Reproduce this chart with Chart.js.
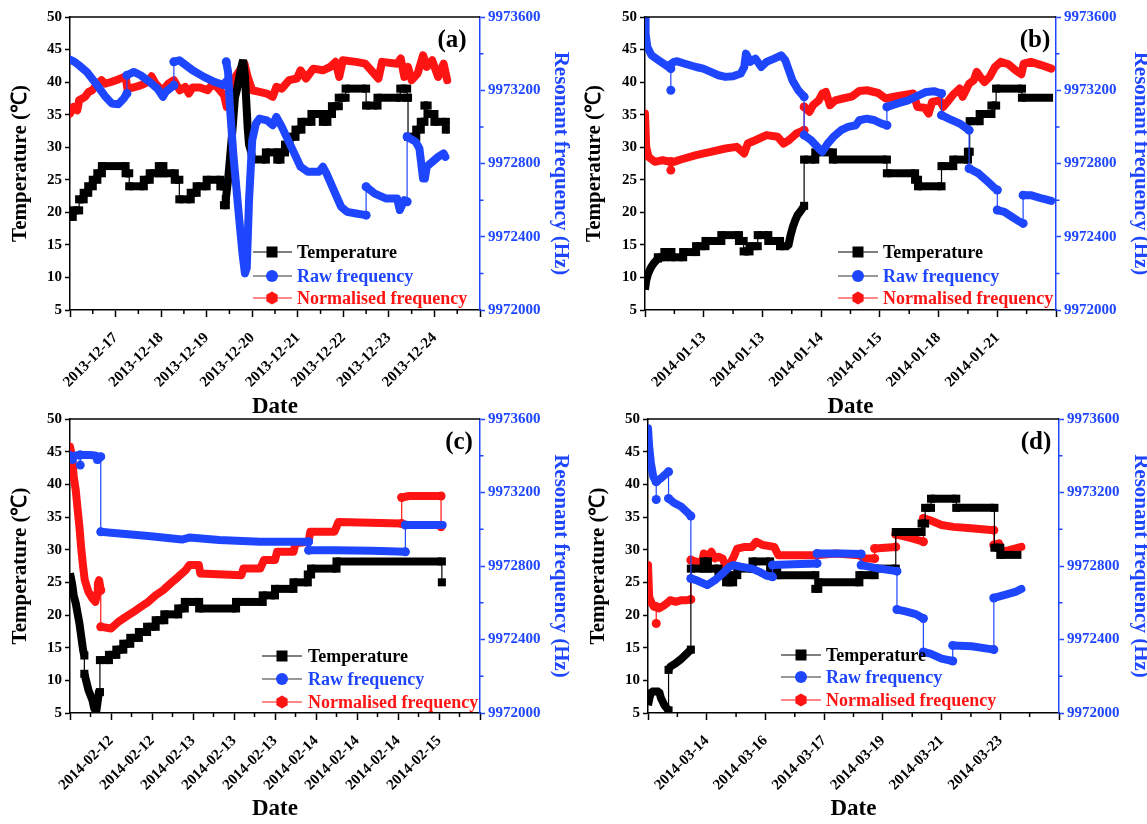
<!DOCTYPE html>
<html><head><meta charset="utf-8">
<script src="https://cdn.jsdelivr.net/npm/chart.js@4.4.1/dist/chart.umd.min.js"></script>
<style>
html,body{margin:0;padding:0;background:#fff;overflow:hidden;width:1147px;height:824px;}
canvas{position:absolute;}
</style>
</head><body>
<canvas id="ca"></canvas><canvas id="cb"></canvas><canvas id="cc"></canvas><canvas id="cd"></canvas>
<script>
// ---------------- DATA ----------------
const xLabelsA = ['', '2013-12-17','2013-12-18','2013-12-19','2013-12-20','2013-12-21','2013-12-22','2013-12-23','2013-12-24',''];
const xLabelsB = ['', '2014-01-13','2014-01-13','2014-01-14','2014-01-15','2014-01-18','2014-01-21',''];
const xLabelsC = ['', '2014-02-12','2014-02-12','2014-02-13','2014-02-13','2014-02-13','2014-02-14','2014-02-14','2014-02-14','2014-02-15',''];
const xLabelsD = ['', '2014-03-14','2014-03-16','2014-03-17','2014-03-19','2014-03-21','2014-03-23',''];

const seriesNames = ['Temperature', 'Raw frequency', 'Normalised frequency'];
const panelLabels = ['(a)', '(b)', '(c)', '(d)'];

// Temperature (°C) [x, value]
const tempA = [[0,19.3],[0.06,19.3],[0.06,20.3],[0.2,20.3],[0.2,22],[0.3,22],[0.3,23],[0.4,23],[0.4,24],[0.5,24],[0.5,25],[0.6,25],[0.6,26],[0.7,26],[0.7,27.1],[1.22,27.1],[1.22,26],[1.3,26],[1.3,24],[1.62,24],[1.62,25],[1.75,25],[1.75,26],[1.95,26],[1.95,27.1],[2.05,27.1],[2.05,26],[2.3,26],[2.3,25],[2.4,25],[2.4,22],[2.65,22],[2.65,23],[2.78,23],[2.78,24],[3.0,24],[3.0,25],[3.3,25],[3.3,24],[3.38,24],[3.38,21.1],[3.42,21.1],[3.42,22],[3.47,25],[3.52,29],[3.57,33],[3.62,37.6],[3.67,39],[3.75,42],[3.8,43.4],[3.84,41],[3.87,37],[3.9,33],[3.93,30.4],[3.98,29.2],[4.0,28.1],[4.3,28.1],[4.3,29.2],[4.55,29.2],[4.55,28.1],[4.62,28.1],[4.62,29.2],[4.72,29.2],[4.72,30.4],[4.82,30.4],[4.82,31.6],[4.95,31.6],[4.95,32.7],[5.08,32.7],[5.08,33.9],[5.3,33.9],[5.3,35.1],[5.55,35.1],[5.55,33.9],[5.65,33.9],[5.65,35.1],[5.75,35.1],[5.75,36.3],[5.9,36.3],[5.9,37.6],[6.05,37.6],[6.05,39],[6.5,39],[6.5,36.4],[6.75,36.4],[6.75,37.6],[7.25,37.6],[7.25,39],[7.4,39],[7.4,37.6],[7.42,37.6],[7.42,31.6],[7.6,31.6],[7.6,32.7],[7.7,32.7],[7.7,33.9],[7.78,33.9],[7.78,36.4],[7.85,36.4],[7.85,35.1],[8.0,35.1],[8.0,33.9],[8.25,33.9],[8.25,32.7],[8.28,32.7]];
const tempB = [[0,8.1],[0.02,9.5],[0.05,10.5],[0.1,11.5],[0.15,12.2],[0.22,12.9],[0.22,13.1],[0.33,13.1],[0.33,13.9],[0.45,13.9],[0.45,13.1],[0.65,13.1],[0.65,13.9],[0.87,13.9],[0.87,14.8],[1.03,14.8],[1.03,15.6],[1.3,15.6],[1.3,16.5],[1.6,16.5],[1.6,15.6],[1.68,15.6],[1.68,14.0],[1.78,14.0],[1.78,14.8],[1.92,14.8],[1.92,16.5],[2.1,16.5],[2.1,15.6],[2.3,15.6],[2.3,14.8],[2.44,14.8],[2.48,16.5],[2.52,17.8],[2.56,18.8],[2.6,19.6],[2.66,20.3],[2.71,21],[2.71,28.1],[2.9,28.1],[2.9,29.2],[3.2,29.2],[3.2,28.1],[4.12,28.1],[4.12,26],[4.6,26],[4.6,25],[4.65,25],[4.65,24],[5.05,24],[5.05,27.1],[5.25,27.1],[5.25,28.1],[5.5,28.1],[5.5,29.3],[5.53,29.3],[5.53,34],[5.7,34],[5.7,35.1],[5.9,35.1],[5.9,36.4],[5.98,36.4],[5.98,39],[6.42,39],[6.42,37.6],[6.95,37.6]];
const tempC = [[0,26.4],[0.05,24.8],[0.09,23],[0.14,21.8],[0.23,18.7],[0.32,14.6],[0.35,13.8],[0.35,11],[0.36,10.8],[0.45,8.5],[0.55,6.9],[0.59,5.7],[0.64,5.2],[0.68,7],[0.71,8.5],[0.73,8.2],[0.73,13.1],[0.95,13.1],[0.95,13.9],[1.13,13.9],[1.13,14.7],[1.3,14.7],[1.3,15.6],[1.47,15.6],[1.47,16.5],[1.68,16.5],[1.68,17.4],[1.88,17.4],[1.88,18.2],[2.09,18.2],[2.09,19.2],[2.3,19.2],[2.3,20.1],[2.64,20.1],[2.64,21],[2.8,21],[2.8,22],[3.15,22],[3.15,21],[4.05,21],[4.05,22],[4.7,22],[4.7,23],[5.0,23],[5.0,24],[5.45,24],[5.45,25],[5.8,25],[5.8,26.2],[5.88,26.2],[5.88,27.1],[6.5,27.1],[6.5,28.2],[9.07,28.2],[9.07,25]];
const tempD = [[0,6.2],[0.03,7.5],[0.06,8.3],[0.19,8.3],[0.22,7.3],[0.28,6.2],[0.35,5.4],[0.35,11.6],[0.38,12.1],[0.47,12.6],[0.57,13.3],[0.66,14.1],[0.73,14.7],[0.73,27.1],[0.95,27.1],[0.95,28.2],[1.02,28.2],[1.02,27.1],[1.2,27.1],[1.2,26.1],[1.33,26.1],[1.33,25],[1.45,25],[1.45,26.1],[1.52,26.1],[1.52,27.1],[1.78,27.1],[1.78,28.2],[2.08,28.2],[2.08,27.1],[2.2,27.1],[2.2,26.1],[2.85,26.1],[2.85,24],[2.9,24],[2.9,25],[3.6,25],[3.6,26.1],[3.86,26.1],[3.86,27.1],[4.22,27.1],[4.22,32.7],[4.66,32.7],[4.66,34],[4.72,34],[4.72,36.4],[4.82,36.4],[4.82,37.8],[5.25,37.8],[5.25,36.4],[5.9,36.4],[5.9,30.3],[6.0,30.3],[6.0,29.2],[6.36,29.2]];

// Raw resonant frequency (Hz) [x, value]
const rawA = [[0,9973367],[0.1,9973355],[0.2,9973336],[0.37,9973300],[0.57,9973236],[0.78,9973164],[0.92,9973127],[1.06,9973124],[1.18,9973155],[1.25,9973182],[1.25,9973282],[1.4,9973300],[1.55,9973282],[1.75,9973245],[1.92,9973209],[2.04,9973164],[2.1,9973191],[2.28,9973227],[2.28,9973355],[2.4,9973364],[2.5,9973345],[2.69,9973309],[2.94,9973273],[3.18,9973245],[3.38,9973227],[3.43,9973245],[3.43,9973355],[3.47,9973300],[3.51,9973109],[3.59,9972836],[3.71,9972509],[3.79,9972300],[3.84,9972200],[3.88,9972230],[3.93,9972600],[4.0,9972927],[4.08,9973018],[4.16,9973045],[4.32,9973036],[4.45,9973009],[4.53,9973055],[4.65,9973000],[4.89,9972873],[5.06,9972782],[5.22,9972755],[5.47,9972755],[5.55,9972782],[5.63,9972746],[5.79,9972655],[5.95,9972564],[6.08,9972536],[6.28,9972527],[6.5,9972518],[6.5,9972673],[6.69,9972636],[6.93,9972609],[7.18,9972609],[7.24,9972546],[7.34,9972600],[7.4,9972591],[7.4,9972946],[7.59,9972918],[7.67,9972882],[7.75,9972718],[7.79,9972718],[7.83,9972782],[7.91,9972800],[8.08,9972836],[8.2,9972855],[8.24,9972836]];
const rawB = [[0,9973600],[0.01,9973509],[0.04,9973436],[0.11,9973391],[0.23,9973364],[0.36,9973336],[0.44,9973318],[0.44,9973200],[0.44,9973340],[0.49,9973355],[0.55,9973358],[0.68,9973345],[0.87,9973327],[0.99,9973318],[1.12,9973300],[1.25,9973282],[1.37,9973273],[1.5,9973276],[1.63,9973291],[1.69,9973327],[1.72,9973400],[1.75,9973382],[1.79,9973355],[1.88,9973373],[1.98,9973327],[2.07,9973355],[2.2,9973373],[2.32,9973391],[2.39,9973364],[2.45,9973309],[2.51,9973255],[2.61,9973200],[2.71,9973164],[2.71,9972955],[2.83,9972927],[2.96,9972882],[3.02,9972864],[3.11,9972909],[3.21,9972946],[3.34,9972982],[3.46,9973000],[3.59,9973009],[3.65,9973036],[3.78,9973045],[3.91,9973036],[4.03,9973018],[4.12,9973009],[4.12,9973109],[4.29,9973127],[4.48,9973145],[4.67,9973173],[4.79,9973191],[4.92,9973195],[5.05,9973182],[5.05,9973064],[5.17,9973045],[5.36,9973018],[5.52,9972982],[5.52,9972773],[5.68,9972746],[5.81,9972709],[5.93,9972673],[6.0,9972655],[6.0,9972546],[6.12,9972536],[6.25,9972509],[6.38,9972482],[6.44,9972473],[6.44,9972627],[6.57,9972627],[6.76,9972609],[6.92,9972596]];
const rawC = [[0,9973404],[0.05,9973395],[0.07,9973377],[0.1,9973400],[0.25,9973404],[0.25,9973349],[0.25,9973404],[0.5,9973404],[0.64,9973400],[0.66,9973377],[0.68,9973395],[0.75,9973395],[0.75,9972986],[1.0,9972981],[1.91,9972963],[2.73,9972944],[2.91,9972955],[3.64,9972941],[4.64,9972932],[5.82,9972932],[5.82,9972886],[6.45,9972886],[7.36,9972883],[8.18,9972877],[8.18,9973023],[9.09,9973023]];
const rawD = [[0,9973549],[0.02,9973449],[0.05,9973358],[0.09,9973286],[0.14,9973259],[0.14,9973162],[0.14,9973259],[0.22,9973277],[0.28,9973295],[0.35,9973313],[0.35,9973168],[0.44,9973144],[0.57,9973122],[0.66,9973095],[0.73,9973072],[0.73,9972732],[0.82,9972723],[1.01,9972696],[1.14,9972723],[1.27,9972759],[1.39,9972796],[1.46,9972805],[1.58,9972796],[1.77,9972786],[1.9,9972768],[2.03,9972746],[2.12,9972741],[2.12,9972805],[2.47,9972810],[2.88,9972814],[2.88,9972868],[3.3,9972868],[3.63,9972865],[3.63,9972805],[3.93,9972786],[4.24,9972772],[4.24,9972563],[4.37,9972554],[4.56,9972538],[4.69,9972514],[4.69,9972332],[4.81,9972323],[5.0,9972296],[5.19,9972283],[5.19,9972368],[5.51,9972363],[5.89,9972345],[5.89,9972626],[6.08,9972643],[6.27,9972661],[6.36,9972675]];

// Normalised frequency (Hz) [x, value]
const normA = [[0,9973073],[0.08,9973109],[0.16,9973091],[0.2,9973145],[0.33,9973164],[0.41,9973191],[0.49,9973200],[0.57,9973227],[0.69,9973255],[0.77,9973236],[0.9,9973245],[1.06,9973259],[1.22,9973276],[1.26,9973209],[1.39,9973215],[1.55,9973227],[1.71,9973245],[1.79,9973276],[1.88,9973236],[1.96,9973215],[2.04,9973200],[2.16,9973236],[2.28,9973255],[2.41,9973200],[2.53,9973218],[2.61,9973182],[2.69,9973215],[2.85,9973215],[3.02,9973200],[3.14,9973236],[3.26,9973209],[3.38,9973173],[3.44,9973109],[3.51,9973200],[3.63,9973273],[3.75,9973318],[3.83,9973345],[3.9,9973273],[4.0,9973200],[4.16,9973191],[4.32,9973182],[4.45,9973164],[4.53,9973218],[4.65,9973209],[4.81,9973255],[4.98,9973264],[5.06,9973309],[5.18,9973264],[5.34,9973318],[5.55,9973309],[5.71,9973327],[5.83,9973355],[5.91,9973273],[5.99,9973364],[6.28,9973355],[6.48,9973345],[6.61,9973309],[6.77,9973264],[6.85,9973355],[7.18,9973345],[7.26,9973373],[7.34,9973273],[7.42,9973327],[7.5,9973255],[7.63,9973291],[7.75,9973391],[7.83,9973327],[7.95,9973364],[8.08,9973273],[8.2,9973345],[8.28,9973255]];
const normB = [[0,9973073],[0.02,9972891],[0.06,9972836],[0.17,9972809],[0.3,9972818],[0.44,9972809],[0.44,9972764],[0.44,9972809],[0.49,9972809],[0.61,9972822],[0.87,9972846],[1.12,9972864],[1.37,9972882],[1.56,9972891],[1.69,9972855],[1.75,9972909],[1.88,9972927],[2.07,9972955],[2.26,9972946],[2.36,9972909],[2.45,9972927],[2.58,9972964],[2.71,9972982],[2.71,9973109],[2.8,9973082],[2.86,9973118],[2.96,9973145],[3.02,9973182],[3.08,9973191],[3.15,9973118],[3.24,9973145],[3.37,9973155],[3.53,9973167],[3.65,9973196],[3.78,9973200],[3.97,9973185],[4.1,9973155],[4.29,9973167],[4.57,9973182],[4.64,9973109],[4.76,9973105],[4.83,9973073],[4.89,9973136],[5.02,9973145],[5.08,9973109],[5.24,9973173],[5.3,9973191],[5.36,9973209],[5.41,9973164],[5.52,9973236],[5.6,9973255],[5.65,9973300],[5.71,9973273],[5.78,9973245],[5.87,9973273],[5.96,9973327],[6.06,9973355],[6.19,9973342],[6.31,9973309],[6.41,9973287],[6.45,9973345],[6.57,9973355],[6.76,9973336],[6.92,9973318]];
const normC = [[0,9973449],[0.05,9973395],[0.09,9973286],[0.14,9973213],[0.18,9973122],[0.23,9973013],[0.27,9972904],[0.32,9972796],[0.36,9972723],[0.45,9972659],[0.55,9972623],[0.62,9972605],[0.66,9972650],[0.68,9972705],[0.71,9972723],[0.75,9972668],[0.75,9972469],[0.77,9972469],[1.0,9972460],[1.18,9972496],[1.36,9972523],[1.55,9972550],[1.73,9972578],[1.91,9972605],[2.09,9972641],[2.27,9972668],[2.45,9972705],[2.64,9972741],[2.82,9972777],[2.91,9972805],[3.14,9972805],[3.18,9972759],[4.18,9972750],[4.23,9972786],[4.64,9972786],[4.73,9972832],[5.0,9972832],[5.05,9972877],[5.45,9972877],[5.5,9972923],[5.82,9972932],[5.86,9972986],[6.45,9972986],[6.55,9973040],[8.09,9973031],[8.09,9973173],[8.27,9973181],[9.05,9973181],[9.05,9973013]];
const normD = [[0,9972805],[0.02,9972632],[0.06,9972600],[0.1,9972578],[0.14,9972578],[0.14,9972487],[0.14,9972578],[0.19,9972569],[0.28,9972587],[0.35,9972605],[0.38,9972614],[0.47,9972605],[0.57,9972614],[0.66,9972614],[0.73,9972618],[0.73,9972832],[0.84,9972823],[0.92,9972814],[0.95,9972868],[1.01,9972850],[1.08,9972877],[1.14,9972841],[1.2,9972850],[1.27,9972841],[1.33,9972796],[1.4,9972814],[1.46,9972850],[1.52,9972895],[1.65,9972904],[1.77,9972904],[1.84,9972932],[1.96,9972914],[2.15,9972904],[2.22,9972859],[2.5,9972859],[2.85,9972859],[3.2,9972868],[3.6,9972859],[3.67,9972841],[3.86,9972841],[3.86,9972895],[4.22,9972904],[4.22,9972972],[4.5,9972950],[4.69,9972932],[4.69,9973059],[4.8,9973050],[5.0,9973023],[5.2,9973013],[5.5,9973005],[5.89,9972995],[5.89,9972914],[5.98,9972923],[6.02,9972877],[6.15,9972886],[6.36,9972904]];

// ---------------- STYLE ----------------
const BLUE = '#1e46ff', RED = '#ff1414', BLACK = '#000000';
const FONT = "'Liberation Serif', 'Times New Roman', serif";

function toPts(arr){ return arr.map(p => ({x: p[0], y: p[1]})); }
function ptRadius(r){
  return c => {
    const d = c.dataset.data, i = c.dataIndex, p = d[i];
    if (!p) return 0;
    const a = d[i-1], b = d[i+1];
    return ((a && a.x === p.x) || (b && b.x === p.x)) ? r : 0;
  };
}
function mkSeries(label, pts, color, axis, style, r, w, cap, join, order){
  return {
    label, data: toPts(pts), yAxisID: axis,
    borderColor: color, backgroundColor: color,
    pointBackgroundColor: color, pointBorderColor: color, pointBorderWidth: 0,
    pointStyle: style, pointRadius: ptRadius(r),
    borderWidth: w, borderCapStyle: cap, borderJoinStyle: join,
    segment: { borderWidth: c => Math.abs(c.p0.x - c.p1.x) < 0.01 ? 1.2 : w },
    tension: 0, order, clip: 0
  };
}

function drawMarker(ctx, kind, x, y){
  ctx.beginPath();
  if (kind === 0) { ctx.rect(x - 5.5, y - 5.5, 11, 11); }
  else if (kind === 1) { ctx.arc(x, y, 6, 0, Math.PI * 2); }
  else { for (let k = 0; k < 6; k++) { const a = Math.PI / 6 + k * Math.PI / 3; const px = x + 6.5 * Math.cos(a), py = y + 6.5 * Math.sin(a); k ? ctx.lineTo(px, py) : ctx.moveTo(px, py); } ctx.closePath(); }
  ctx.fill();
}

const deco = {
  id: 'deco',
  afterDraw(chart, args, o){
    const {ctx, chartArea: a, scales} = chart;
    const x = scales.x, y1 = scales.y1;
    ctx.save();
    ctx.lineWidth = 1.5; ctx.strokeStyle = BLACK;
    ctx.beginPath(); ctx.moveTo(a.left, a.top); ctx.lineTo(a.right, a.top); ctx.stroke();
    ctx.beginPath();
    for (let v = x.min + 0.5; v < x.max; v += 1) { const px = x.getPixelForValue(v); ctx.moveTo(px, a.bottom); ctx.lineTo(px, a.bottom + 4); }
    ctx.stroke();
    ctx.strokeStyle = BLUE; ctx.beginPath();
    for (let v = y1.min + 200; v < y1.max; v += 400) { const py = y1.getPixelForValue(v); ctx.moveTo(a.right, py); ctx.lineTo(a.right + 3.5, py); }
    ctx.stroke();
    // panel label
    ctx.fillStyle = BLACK; ctx.font = 'bold 25px ' + FONT; ctx.textAlign = 'center'; ctx.textBaseline = 'middle';
    ctx.fillText(o.label, o.lx, o.ly);
    // legend
    const L = o.legend, ds = chart.data.datasets;
    const lineColors = [BLACK, '#333333', RED];
    const textColors = [BLACK, BLUE, RED];
    L.rows.forEach((yy, i) => {
      ctx.strokeStyle = lineColors[i]; ctx.lineWidth = 1.2;
      ctx.beginPath(); ctx.moveTo(L.x0, yy); ctx.lineTo(L.x1, yy); ctx.stroke();
      ctx.fillStyle = ds[i].borderColor; drawMarker(ctx, i, L.mx, yy);
      ctx.fillStyle = textColors[i]; ctx.font = 'bold 18px ' + FONT; ctx.textAlign = 'left'; ctx.textBaseline = 'middle';
      ctx.fillText(ds[i].label, L.tx, yy + 1);
    });
    ctx.restore();
  }
};

function makePanel(id, P){
  const cv = document.getElementById(id);
  cv.width = P.w; cv.height = P.h;
  cv.style.width = P.w + 'px'; cv.style.height = P.h + 'px';
  cv.style.left = P.left + 'px'; cv.style.top = P.top + 'px';
  const tickFont = {family: FONT, weight: 'bold', size: 15};
  new Chart(cv, {
    type: 'line',
    data: { datasets: [
      mkSeries(seriesNames[0], P.temp, BLACK, 'y', 'rect', 5.7, 8, 'butt', 'bevel', 2),
      mkSeries(seriesNames[1], P.raw, BLUE, 'y1', 'circle', 4.5, 8, 'round', 'round', 1),
      mkSeries(seriesNames[2], P.norm, RED, 'y1', 'circle', 4.5, 8, 'round', 'round', 3)
    ]},
    options: {
      responsive: false, animation: false, devicePixelRatio: 1, events: [],
      layout: { padding: { top: 17, left: 0, right: 0, bottom: 0 } },
      plugins: { legend: {display: false}, tooltip: {enabled: false},
        deco: { label: P.label, lx: P.lx, ly: 41, legend: P.legend } },
      scales: {
        x: { type: 'linear', position: 'bottom', min: 0, max: P.xLabels.length - 1,
          afterFit: s => { s.height = P.bottomH; },
          ticks: { stepSize: 1, autoSkip: false, minRotation: 45, maxRotation: 45, padding: 12, color: BLACK, font: tickFont,
                   callback: v => P.xLabels[v] ?? '' },
          grid: { drawOnChartArea: false, tickLength: 7, tickColor: BLACK, tickWidth: 1.5 },
          border: { color: BLACK, width: 1.5 },
          title: { display: true, text: 'Date', color: BLACK, font: {family: FONT, weight: 'bold', size: 23, lineHeight: 1.1}, padding: {top: 0, bottom: 0} } },
        y: { type: 'linear', position: 'left', min: 5, max: 50,
          afterFit: s => { s.width = P.leftW; },
          ticks: { stepSize: 5, padding: 3, color: BLACK, font: tickFont },
          grid: { drawOnChartArea: false, tickLength: 5, tickColor: BLACK, tickWidth: 1.5 },
          border: { color: BLACK, width: 1.5 },
          title: { display: true, text: 'Temperature (℃)', color: BLACK, font: {family: FONT, weight: 'bold', size: 21, lineHeight: 1.2}, padding: {top: P.ltPad, bottom: 0} } },
        y1: { type: 'linear', position: 'right', min: 9972000, max: 9973600,
          afterFit: s => { s.width = P.rightW; },
          ticks: { stepSize: 400, padding: 3, color: BLUE, font: tickFont, callback: v => String(v) },
          grid: { drawOnChartArea: false, tickLength: 5, tickColor: BLUE, tickWidth: 1.5 },
          border: { color: BLUE, width: 1.5 },
          title: { display: true, text: 'Resonant frequency (Hz)', color: BLUE, font: {family: FONT, weight: 'bold', size: 21, lineHeight: 1.2}, padding: {top: P.rtPad, bottom: 0} } }
      }
    },
    plugins: [deco]
  });
}

makePanel('ca', { left: 0, top: 0, w: 573, h: 420, leftW: 70, rightW: 93, bottomH: 110, ltPad: 8, rtPad: 0,
  xLabels: xLabelsA, temp: tempA, raw: rawA, norm: normA, label: panelLabels[0], lx: 452,
  legend: { x0: 253, x1: 292, mx: 272, tx: 297, rows: [252, 276, 298] } });
makePanel('cb', { left: 573, top: 0, w: 580, h: 420, leftW: 72, rightW: 97, bottomH: 110, ltPad: 9, rtPad: 0,
  xLabels: xLabelsB, temp: tempB, raw: rawB, norm: normB, label: panelLabels[1], lx: 462,
  legend: { x0: 265, x1: 305, mx: 285, tx: 310, rows: [252, 276, 298] } });
makePanel('cc', { left: 0, top: 402, w: 573, h: 420, leftW: 70, rightW: 93, bottomH: 109, ltPad: 8, rtPad: 0,
  xLabels: xLabelsC, temp: tempC, raw: rawC, norm: normC, label: panelLabels[2], lx: 459,
  legend: { x0: 262, x1: 302, mx: 282, tx: 308, rows: [254, 277, 300] } });
makePanel('cd', { left: 573, top: 402, w: 580, h: 420, leftW: 75, rightW: 94, bottomH: 109, ltPad: 13, rtPad: 0,
  xLabels: xLabelsD, temp: tempD, raw: rawD, norm: normD, label: panelLabels[3], lx: 463,
  legend: { x0: 208, x1: 248, mx: 228, tx: 253, rows: [253, 275, 298] } });
</script>
</body></html>
